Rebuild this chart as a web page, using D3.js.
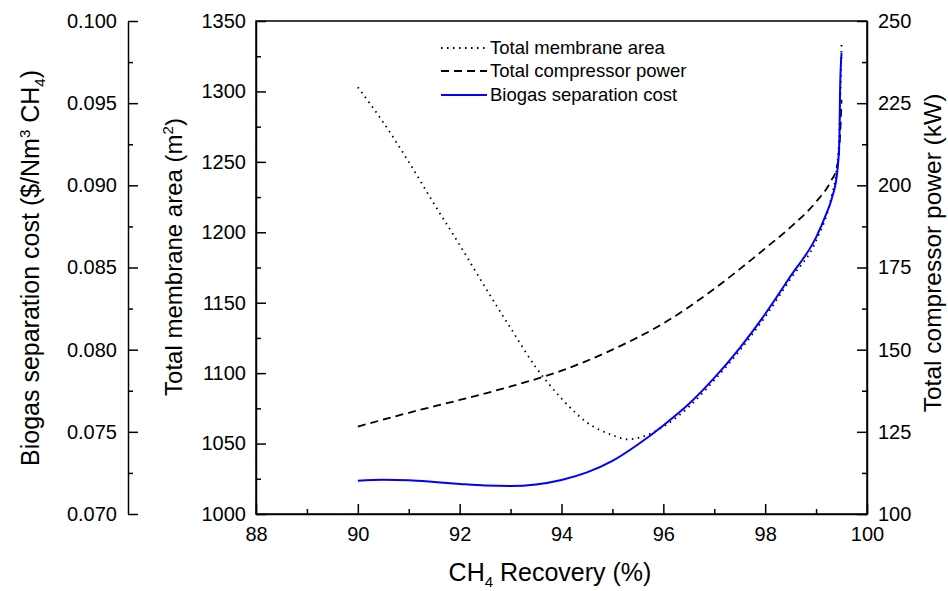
<!DOCTYPE html>
<html>
<head>
<meta charset="utf-8">
<script src="https://cdn.jsdelivr.net/npm/d3@7"></script>
<style>
  body { margin: 0; background: #fff; }
  text { font-family: "Liberation Sans", Arial, sans-serif; fill: #000; }
</style>
</head>
<body>
<svg id="chart" width="948" height="591"></svg>
<script>
// ---- data ----
const xTicks = [88, 90, 92, 94, 96, 98, 100];
const areaTicks = [1000, 1050, 1100, 1150, 1200, 1250, 1300, 1350];
const powerTicks = [100, 125, 150, 175, 200, 225, 250];
const costTicks = [0.070, 0.075, 0.080, 0.085, 0.090, 0.095, 0.100];

const recoveryArea = [90, 90.5, 91, 91.5, 92, 92.5, 93, 93.5, 94, 94.5, 95, 95.3, 95.6, 96, 96.5, 97, 97.5, 98, 98.5, 99, 99.3, 99.4, 99.45, 99.48, 99.5];
const areaValues   = [1303, 1278, 1250, 1220, 1191, 1161, 1132, 1104, 1082, 1065, 1056, 1053, 1055, 1062, 1076, 1095, 1116, 1140, 1167, 1194, 1225, 1244, 1265, 1301, 1334];

const recoveryPower = [90, 91, 92, 93, 94, 95, 96, 97, 97.5, 98, 98.5, 99, 99.3, 99.4, 99.45, 99.48, 99.5];
const powerValues   = [126.6, 130.8, 134.7, 138.8, 143.6, 150.0, 158.0, 168.5, 174.5, 180.8, 187.3, 195.0, 201.5, 205.0, 210.0, 218.0, 226.0];

const recoveryCost = [90, 90.5, 91, 91.5, 92, 92.5, 93, 93.5, 94, 94.5, 95, 95.5, 96, 96.5, 97, 97.5, 98, 98.5, 99, 99.2, 99.3, 99.42, 99.46, 99.47, 99.5];
const costValues   = [0.07203, 0.07208, 0.07205, 0.07195, 0.07183, 0.07173, 0.07170, 0.07180, 0.07207, 0.07253, 0.07323, 0.07423, 0.07539, 0.07669, 0.07828, 0.08010, 0.08217, 0.08448, 0.08683, 0.08826, 0.08911, 0.09093, 0.09296, 0.09562, 0.09805];

const seriesNames = ["Total membrane area", "Total compressor power", "Biogas separation cost"];

// ---- layout ----
const L = 256, R = 867, T = 21, B = 514, costX = 128;
const svg = d3.select("#chart");

const x = d3.scaleLinear().domain([88, 100]).range([L, R]);
const yArea = d3.scaleLinear().domain([1000, 1350]).range([B, T]);
const yPower = d3.scaleLinear().domain([100, 250]).range([B, T]);
const yCost = d3.scaleLinear().domain([0.070, 0.100]).range([B, T]);

function mids(arr) { const m = []; for (let i = 0; i < arr.length - 1; i++) m.push((arr[i] + arr[i+1]) / 2); return m; }

const FS = 20;
function styleAxis(g) {
  g.selectAll("text").style("font-size", FS + "px").style("font-family", "Liberation Sans, Arial, sans-serif");
  g.selectAll("line,path").attr("stroke", "#000").attr("stroke-width", 1.5);
}

// frame
svg.append("rect").attr("x", L).attr("y", T).attr("width", R - L).attr("height", B - T)
  .attr("fill", "none").attr("stroke", "#000").attr("stroke-width", 1.5);

// bottom axis
svg.append("g").attr("transform", `translate(0,${B})`)
  .call(d3.axisBottom(x).tickValues(xTicks).tickSize(-10).tickPadding(13).tickSizeOuter(0).tickFormat(d3.format("d")))
  .call(styleAxis);
svg.append("g").attr("transform", `translate(0,${B})`)
  .call(d3.axisBottom(x).tickValues(mids(xTicks)).tickSize(-5).tickSizeOuter(0).tickFormat(""))
  .call(styleAxis).select(".domain").remove();

// left area axis
svg.append("g").attr("transform", `translate(${L},0)`)
  .call(d3.axisLeft(yArea).tickValues(areaTicks).tickSize(-10).tickPadding(10).tickSizeOuter(0).tickFormat(d3.format("d")))
  .call(styleAxis);
svg.append("g").attr("transform", `translate(${L},0)`)
  .call(d3.axisLeft(yArea).tickValues(mids(areaTicks)).tickSize(-5).tickSizeOuter(0).tickFormat(""))
  .call(styleAxis).select(".domain").remove();

// right power axis
svg.append("g").attr("transform", `translate(${R},0)`)
  .call(d3.axisRight(yPower).tickValues(powerTicks).tickSize(-10).tickPadding(11).tickSizeOuter(0).tickFormat(d3.format("d")))
  .call(styleAxis);
svg.append("g").attr("transform", `translate(${R},0)`)
  .call(d3.axisRight(yPower).tickValues(mids(powerTicks)).tickSize(-5).tickSizeOuter(0).tickFormat(""))
  .call(styleAxis).select(".domain").remove();

// cost axis (offset left)
svg.append("g").attr("transform", `translate(${costX},0)`)
  .call(d3.axisLeft(yCost).tickValues(costTicks).tickSize(-10).tickPadding(11).tickSizeOuter(0).tickFormat(d3.format(".3f")))
  .call(styleAxis);
svg.append("g").attr("transform", `translate(${costX},0)`)
  .call(d3.axisLeft(yCost).tickValues(mids(costTicks)).tickSize(-5).tickSizeOuter(0).tickFormat(""))
  .call(styleAxis).select(".domain").remove();

// ---- lines ----
const curve = d3.curveMonotoneX;
const areaLine = d3.line().x((d, i) => x(recoveryArea[i])).y(d => yArea(d)).curve(curve);
const powerLine = d3.line().x((d, i) => x(recoveryPower[i])).y(d => yPower(d)).curve(curve);
const costLine = d3.line().x((d, i) => x(recoveryCost[i])).y(d => yCost(d)).curve(curve);

svg.append("path").attr("d", areaLine(areaValues)).attr("fill", "none")
  .attr("stroke", "#000").attr("stroke-width", 1.8).attr("stroke-dasharray", "1.5,4.5");
svg.append("path").attr("d", powerLine(powerValues)).attr("fill", "none")
  .attr("stroke", "#000").attr("stroke-width", 1.8).attr("stroke-dasharray", "8,5");
svg.append("path").attr("d", costLine(costValues)).attr("fill", "none")
  .attr("stroke", "#0000ff").attr("stroke-width", 2);

// ---- legend ----
const legStyles = [
  { dash: "1.5,4.5", color: "#000", w: 1.8 },
  { dash: "8,5", color: "#000", w: 1.8 },
  { dash: null, color: "#0000ff", w: 2 }
];
const legY = [48, 71, 95];
seriesNames.forEach((name, i) => {
  const g = svg.append("g");
  g.append("line").attr("x1", 441).attr("x2", 487).attr("y1", legY[i]).attr("y2", legY[i])
    .attr("stroke", legStyles[i].color).attr("stroke-width", legStyles[i].w)
    .attr("stroke-dasharray", legStyles[i].dash);
  g.append("text").attr("x", 490).attr("y", legY[i]).attr("dy", "0.35em")
    .style("font-size", "18.5px").text(name);
});

// ---- axis titles ----
// x title
const xt = svg.append("text").attr("x", 550).attr("y", 581).attr("text-anchor", "middle").style("font-size", "25px");
xt.append("tspan").text("CH");
xt.append("tspan").attr("dy", 6).style("font-size", "15px").text("4");
xt.append("tspan").attr("dy", -6).text(" Recovery (%)");

// membrane area title
const at = svg.append("text").attr("transform", "translate(182,257) rotate(-90)").attr("text-anchor", "middle").style("font-size", "24px");
at.append("tspan").text("Total membrane area (m");
at.append("tspan").attr("dy", -9).style("font-size", "15px").text("2");
at.append("tspan").attr("dy", 9).text(")");

// cost title
const ct = svg.append("text").attr("transform", "translate(39,268) rotate(-90)").attr("text-anchor", "middle").style("font-size", "25px");
ct.append("tspan").text("Biogas separation cost ($/Nm");
ct.append("tspan").attr("dy", -9).style("font-size", "15px").text("3");
ct.append("tspan").attr("dy", 9).text(" CH");
ct.append("tspan").attr("dy", 6).style("font-size", "15px").text("4");
ct.append("tspan").attr("dy", -6).text(")");

// power title
svg.append("text").attr("transform", "translate(941,253) rotate(-90)").attr("text-anchor", "middle")
  .style("font-size", "24.5px").text("Total compressor power (kW)");
</script>
</body>
</html>
